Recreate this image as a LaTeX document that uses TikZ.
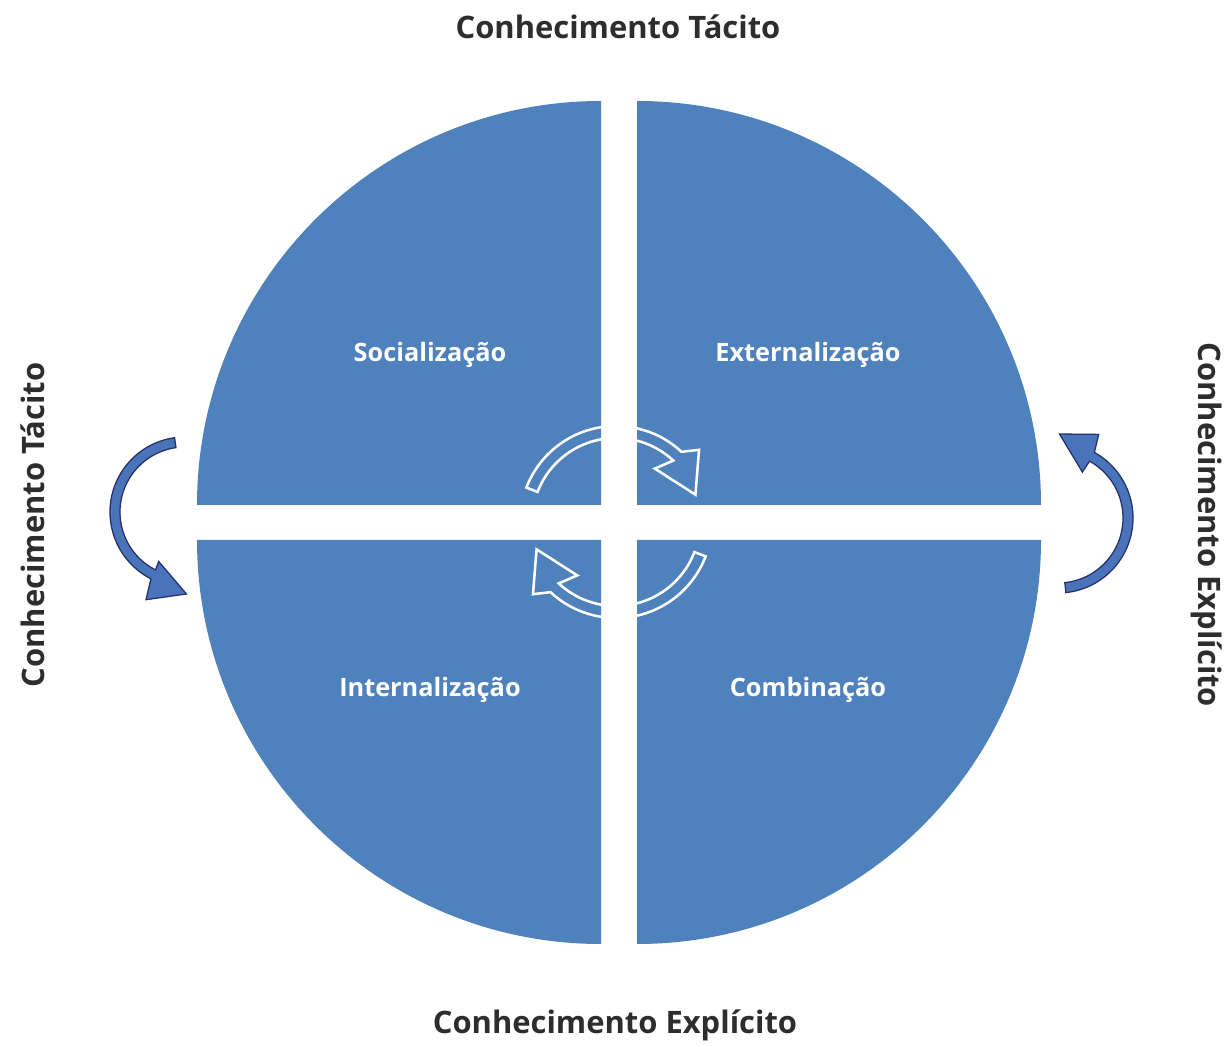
\documentclass[tikz,border=0pt]{standalone}
\usepackage{fontspec}
\setmainfont{Open Sans}
\definecolor{quadblue}{RGB}{79,129,189}
\definecolor{arrowblue}{RGB}{74,116,186}
\definecolor{navyline}{RGB}{38,48,108}
\definecolor{labelgray}{RGB}{45,45,45}
\begin{document}
\begin{tikzpicture}[x=0.025cm,y=0.025cm,
  quad/.style={fill=quadblue,draw=none},
  outerlabel/.style={text=labelgray,font=\fontsize{22}{26}\selectfont\bfseries,inner sep=0pt},
  quadlabel/.style={text=white,font=\fontsize{18}{21}\selectfont\bfseries,inner sep=0pt},
  cyclearrow/.style={draw=white,line width=1.8pt,line join=miter,fill=none},
  sidearrow/.style={fill=arrowblue,draw=navyline,line width=0.9pt,line join=miter}]
\path[use as bounding box,fill=white] (0,0) rectangle (1227,1046);
% quadrants
\path[quad] (601,541) -- (197,541) arc[start angle=180,end angle=90,radius=404] -- cycle;
\path[quad] (637,541) -- (637,945) arc[start angle=90,end angle=0,radius=404] -- cycle;
\path[quad] (601,506) -- (197,506) arc[start angle=180,end angle=270,radius=404] -- cycle;
\path[quad] (637,506) -- (1041,506) arc[start angle=0,end angle=-90,radius=404] -- cycle;
% quadrant labels
\node[quadlabel] (soc) at (430,691) {Socialização};
\node[quadlabel] (ext) at (808,691) {Externalização};
\node[quadlabel] (int) at (430,356) {Internalização};
\node[quadlabel] (com) at (808,356) {Combinação};
% outer labels
\node[outerlabel] (top) at (618,1019) {Conhecimento Tácito};
\node[outerlabel] (bot) at (615,21) {Conhecimento Explícito};
\node[outerlabel,rotate=90] (left) at (33,521) {Conhecimento Tácito};
\node[outerlabel,rotate=-90] (right) at (1207,521) {Conhecimento Explícito};
% central cycle arrows
\begin{scope}[shift={(616,524)}]
\draw[cyclearrow] (159:96) arc[start angle=159,end angle=47,radius=96] -- (41:110) -- (19:84) -- (54:66) -- (47:84) arc[start angle=47,end angle=159,radius=84] -- cycle;
\end{scope}
\begin{scope}[shift={(616,524)},rotate=180]
\draw[cyclearrow] (159:96) arc[start angle=159,end angle=47,radius=96] -- (41:110) -- (19:84) -- (54:66) -- (47:84) arc[start angle=47,end angle=159,radius=84] -- cycle;
\end{scope}
% side arrows
\begin{scope}[shift={(185,534)}]
\draw[sidearrow] (98:75) arc[start angle=98,end angle=243,radius=75] -- (246:96) -- (271:82) -- (242:56) -- (243:65) arc[start angle=243,end angle=98,radius=65] -- cycle;
\end{scope}
\begin{scope}[shift={(1058,528)}]
\draw[sidearrow] (-84:75) arc[start angle=-84,end angle=61,radius=75] -- (64:93) -- (89:84) -- (62:52) -- (61:65) arc[start angle=61,end angle=-84,radius=65] -- cycle;
\end{scope}
\end{tikzpicture}
\end{document}
